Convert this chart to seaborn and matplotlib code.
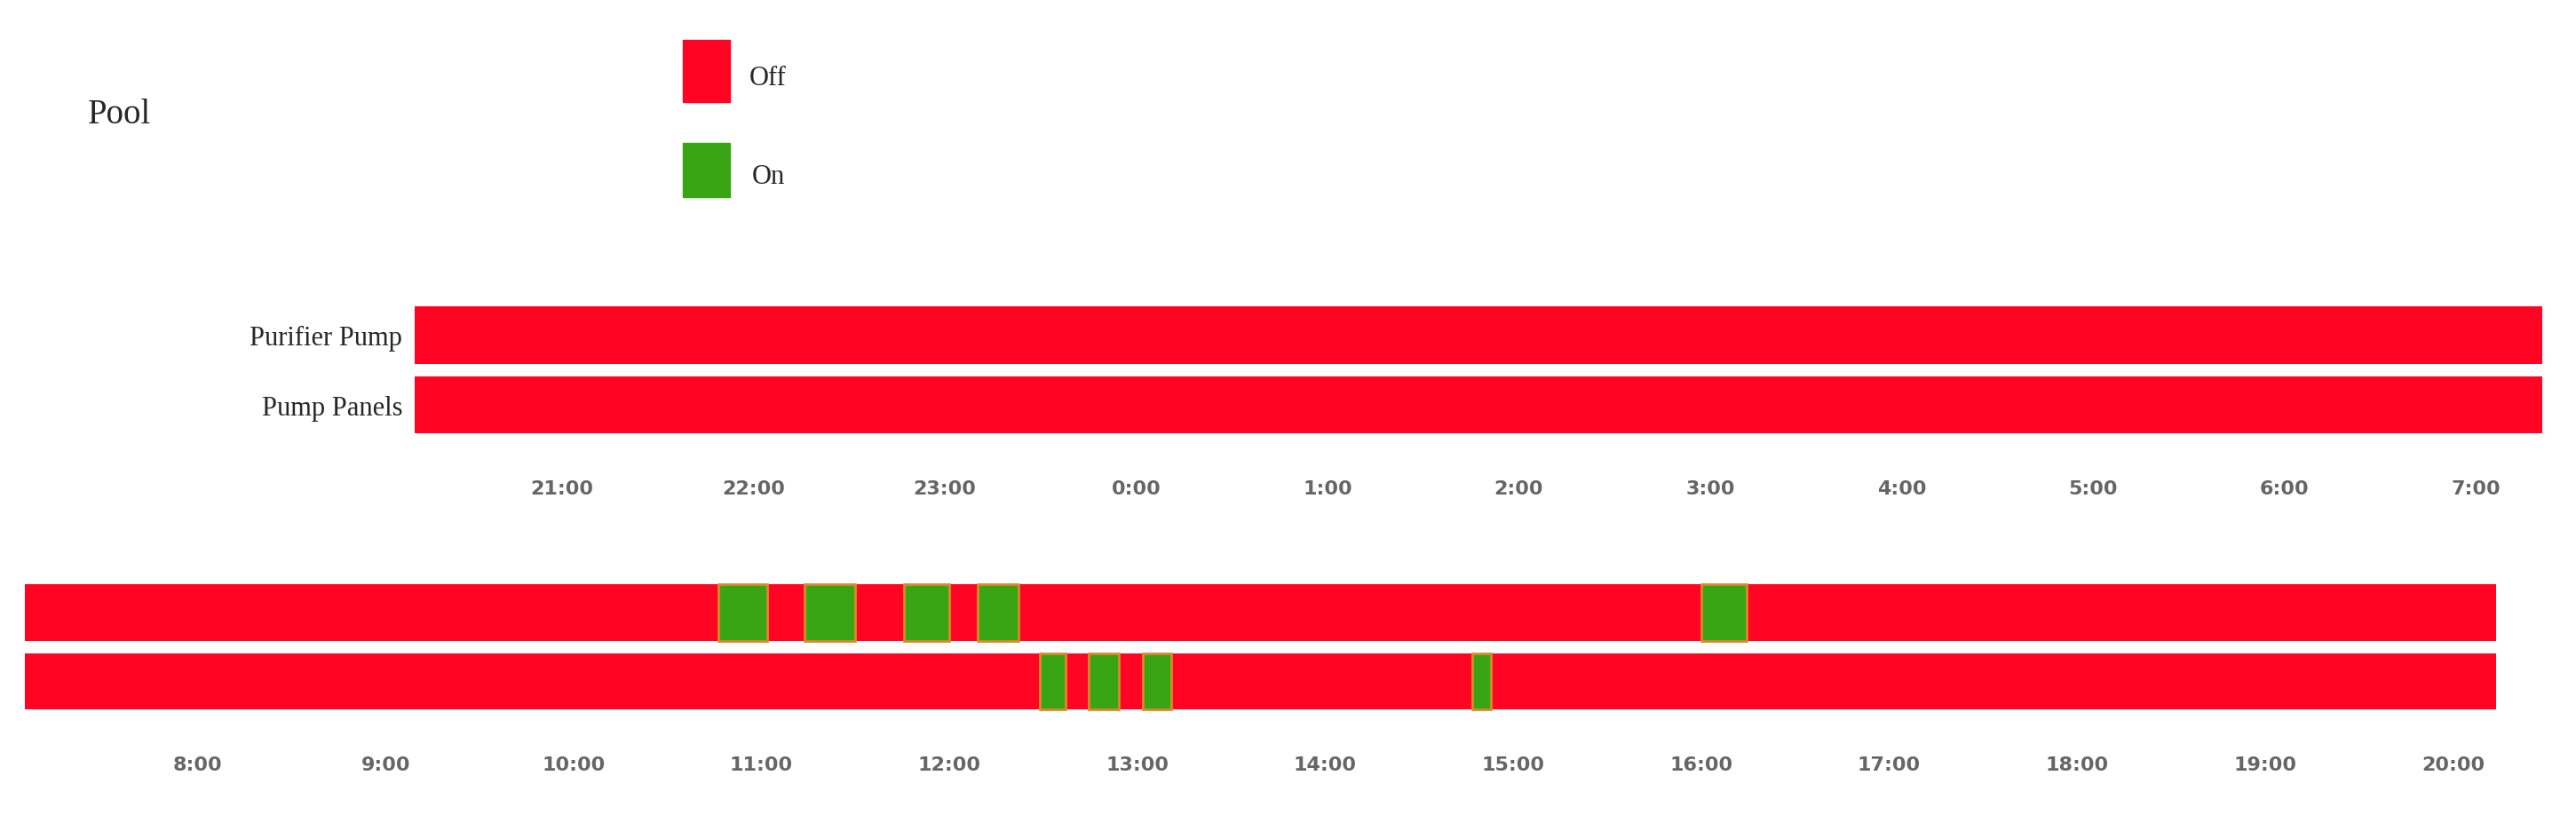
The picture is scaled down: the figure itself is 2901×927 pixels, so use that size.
import numpy as np
import pandas as pd
import matplotlib
matplotlib.use('Agg')
import matplotlib.pyplot as plt
import seaborn as sns

sns.set_style('white')

devices = ['Purifier Pump', 'Pump Panels']
RED = '#ff0423'
GREEN = '#3aa514'

# night window (hours, >24 means next day) and day window
night_start, night_end = 20.23, 31.35
day_start, day_end = 7.08, 20.23

# "On" intervals in the day window (hours)
on_purifier = [(10.77, 11.03), (11.23, 11.50), (11.76, 12.00), (12.15, 12.37), (16.00, 16.24)]
on_panels = [(12.48, 12.62), (12.74, 12.90), (13.03, 13.18), (14.78, 14.88)]

night_ticks = list(range(21, 32))
day_ticks = list(range(8, 21))

fig = plt.figure(figsize=(29.01, 9.28), dpi=100)
ax1 = fig.add_axes([0.161, 0.465, 0.826, 0.17])
ax2 = fig.add_axes([0.0096, 0.13, 0.9594, 0.167])


def draw(ax, start, end, on_lists):
    for i, ons in enumerate(on_lists):
        ax.barh(i, end - start, left=start, height=0.82, color=RED, edgecolor='none')
        for a, b in ons:
            ax.barh(i, b - a, left=a, height=0.82, color=GREEN,
                    edgecolor='#d98a2a', linewidth=2)
    ax.set_xlim(start, end)
    ax.set_ylim(len(on_lists) - 0.5, -0.5)
    for s in ax.spines.values():
        s.set_visible(False)


draw(ax1, night_start, night_end, [[], []])
draw(ax2, day_start, day_end, [on_purifier, on_panels])

ax1.set_xticks(night_ticks)
ax1.set_xticklabels([f'{h % 24}:00' for h in night_ticks])
ax2.set_xticks(day_ticks)
ax2.set_xticklabels([f'{h}:00' for h in day_ticks])
for ax in (ax1, ax2):
    ax.tick_params(axis='x', length=0, pad=32, labelsize=16, labelcolor='#666666')
    for t in ax.get_xticklabels():
        t.set_fontweight('bold')

ax1.set_yticks([0, 1])
ax1.set_yticklabels(devices, fontfamily='Liberation Serif', fontsize=22)
ax1.tick_params(axis='y', length=0, pad=10)
ax2.set_yticks([])

fig.text(0.034, 0.86, 'Pool', fontfamily='Liberation Serif', fontsize=28, va='center')

# legend swatches
fig.patches.append(plt.Rectangle((0.265, 0.875), 0.0185, 0.075, transform=fig.transFigure,
                                 color=RED, figure=fig))
fig.patches.append(plt.Rectangle((0.265, 0.76), 0.0185, 0.065, transform=fig.transFigure,
                                 color=GREEN, figure=fig))
fig.text(0.291, 0.905, 'Off', fontfamily='Liberation Serif', fontsize=22, va='center')
fig.text(0.292, 0.785, 'On', fontfamily='Liberation Serif', fontsize=22, va='center')

fig.savefig('out.png', dpi=100, facecolor='white')
